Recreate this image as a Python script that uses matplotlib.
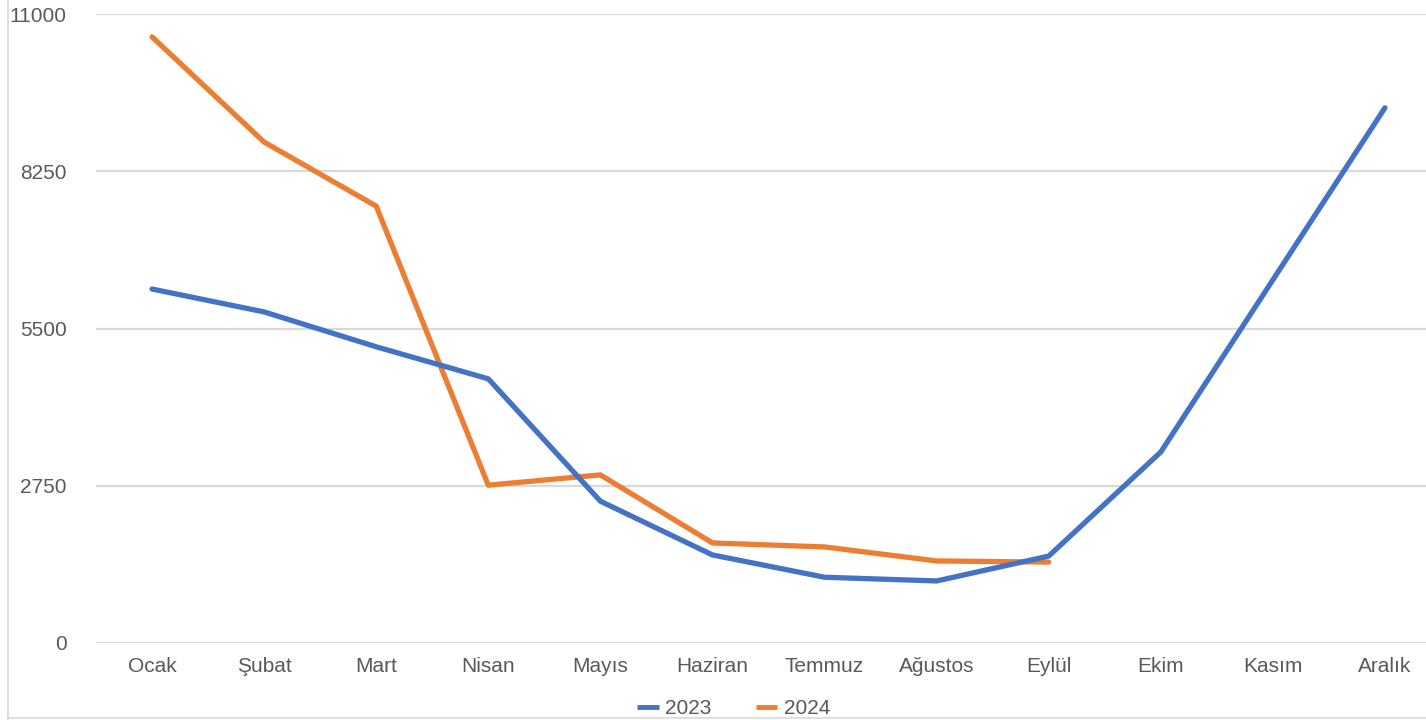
import matplotlib.pyplot as plt
from matplotlib.lines import Line2D

months = ['Ocak', 'Şubat', 'Mart', 'Nisan', 'Mayıs', 'Haziran', 'Temmuz',
          'Ağustos', 'Eylül', 'Ekim', 'Kasım', 'Aralık']
vals_2023 = [6190, 5790, 5180, 4620, 2480, 1540, 1150, 1085, 1520, 3340, 6350, 9360]
vals_2024 = [10600, 8760, 7640, 2760, 2940, 1750, 1680, 1435, 1415]
yticks = [0, 2750, 5500, 8250, 11000]

plt.rcParams['font.family'] = ['Liberation Sans', 'DejaVu Sans']
txt = '#595959'

fig = plt.figure(figsize=(14.26, 7.2), dpi=100)
ax = fig.add_axes([96 / 1426, 77 / 720, 1345 / 1426, 629 / 720])

x23 = list(range(len(vals_2023)))
x24 = list(range(len(vals_2024)))
ax.plot(x23, vals_2023, color='#4472C4', lw=3.8, solid_capstyle='round',
        solid_joinstyle='round', label='2023', zorder=3)
ax.plot(x24, vals_2024, color='#ED7D31', lw=3.8, solid_capstyle='round',
        solid_joinstyle='round', label='2024', zorder=2)

ax.set_xlim(-0.5, 11.5)
ax.set_ylim(0, 11000)
ax.set_yticks(yticks)
ax.set_yticklabels([str(v) for v in yticks])
ax.set_xticks(x23)
ax.set_xticklabels(months)
ax.grid(axis='y', color='#D9D9D9', lw=1.6, zorder=0)
ax.set_axisbelow(True)
for s in ax.spines.values():
    s.set_visible(False)
ax.tick_params(axis='both', length=0, labelsize=15, colors=txt)
ax.tick_params(axis='y', pad=21)
ax.tick_params(axis='x', pad=10)

leg = fig.legend(loc='center', bbox_to_anchor=(0.5145, 0.016), ncol=2, frameon=False,
                 fontsize=15, handlelength=1.05, columnspacing=2.1, handletextpad=0.3)
for t in leg.get_texts():
    t.set_color(txt)
for h in leg.legend_handles:
    h.set_linewidth(3.5)
    h.set_solid_capstyle('butt')

# outer chart border
fig.add_artist(Line2D([7.5 / 1426, 7.5 / 1426], [0, 1], color='#D9D9D9', lw=1.2))
fig.add_artist(Line2D([7.5 / 1426, 1], [2.5 / 720, 2.5 / 720], color='#D9D9D9', lw=1.2))

fig.savefig('out.png', dpi=100)
